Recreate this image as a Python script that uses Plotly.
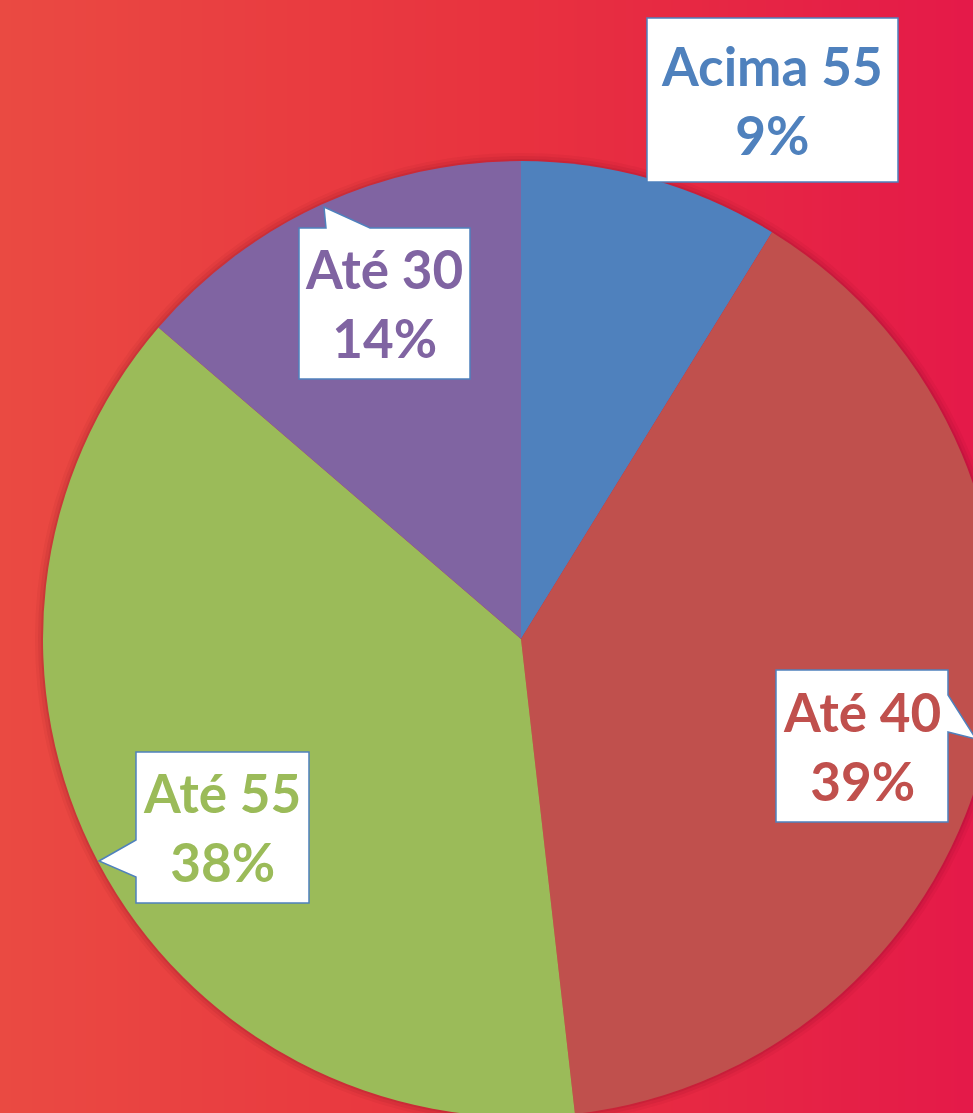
import plotly.graph_objects as go

# ---- data ----
categories = ["Acima 55", "Até 40", "Até 55", "Até 30"]
values = [8.8, 39.4, 38.1, 13.7]
colors = ["#4F81BD", "#C0504D", "#9BBB59", "#8064A2"]
pct_labels = [f"{round(v)}%" for v in values]

# ---- canvas geometry (pixels) ----
W, H = 1020, 1130
CX, CY, R = 521, 639, 478


def px(x):
    return x / W


def py(y):
    return 1 - y / H


fig = go.Figure()

# background gradient via smoothed heatmap
fig.add_trace(go.Heatmap(
    x=[0, 1], y=[0, 1], z=[[0, 1], [0, 1]], zsmooth="best",
    colorscale=[[0, "#EA4A42"], [0.5, "#E8323F"], [1, "#E4174A"]],
    showscale=False, hoverinfo="skip",
))

# soft shadow rings behind the pie
for d, a in [(8, 0.05), (5, 0.07), (2, 0.10)]:
    fig.add_trace(go.Pie(
        values=[1], marker=dict(colors=[f"rgba(90,0,25,{a})"]),
        textinfo="none", hoverinfo="skip", showlegend=False, sort=False,
        domain=dict(x=[px(CX - R - d), px(CX + R + d)],
                    y=[py(CY + R + d), py(CY - R - d)]),
    ))

fig.add_trace(go.Pie(
    labels=categories, values=values, sort=False, direction="clockwise",
    rotation=0, marker=dict(colors=colors, line=dict(width=0)),
    textinfo="none", hoverinfo="label+percent", showlegend=False,
    domain=dict(x=[px(CX - R), px(CX + R)], y=[py(CY + R), py(CY - R)]),
))

# callout boxes (pixel outlines incl. pointer), same order as categories
callouts = [
    # Acima 55
    ([(647, 18), (898, 18), (898, 182), (647, 182)], (772, 100)),
    # Até 40
    ([(776, 670), (948, 670), (948, 695), (976, 739), (948, 732), (948, 822), (776, 822)], (862, 746)),
    # Até 55
    ([(136, 752), (309, 752), (309, 903), (136, 903), (136, 877), (99, 861), (136, 840)], (222, 827)),
    # Até 30
    ([(299, 228), (326, 228), (324, 207), (370, 228), (470, 228), (470, 379), (299, 379)], (384, 303)),
]

for (pts, (tx, ty)), cat, pct, col in zip(callouts, categories, pct_labels, colors):
    path = "M " + " L ".join(f"{px(x):.5f},{py(y):.5f}" for x, y in pts) + " Z"
    fig.add_shape(type="path", path=path, xref="paper", yref="paper",
                  fillcolor="white", line=dict(color="#4F81BD", width=1.5),
                  layer="above")
    fig.add_annotation(x=px(tx), y=py(ty), xref="paper", yref="paper",
                       text=f"<b>{cat}<br>{pct}</b>", showarrow=False,
                       font=dict(family="Lato, 'Open Sans', sans-serif", size=53, color=col),
                       xanchor="center", yanchor="middle", align="center")

fig.update_layout(
    width=W, height=H, margin=dict(l=0, r=0, t=0, b=0),
    paper_bgcolor="#E8323F", plot_bgcolor="#E8323F",
    xaxis=dict(visible=False, range=[0, 1], domain=[0, 1], fixedrange=True),
    yaxis=dict(visible=False, range=[0, 1], domain=[0, 1], fixedrange=True),
)

fig.write_html(
    "out.html",
    config={"displayModeBar": False},
    post_script="document.body.style.margin='0';document.body.style.overflow='hidden';"
                "document.documentElement.style.overflow='hidden';",
)
